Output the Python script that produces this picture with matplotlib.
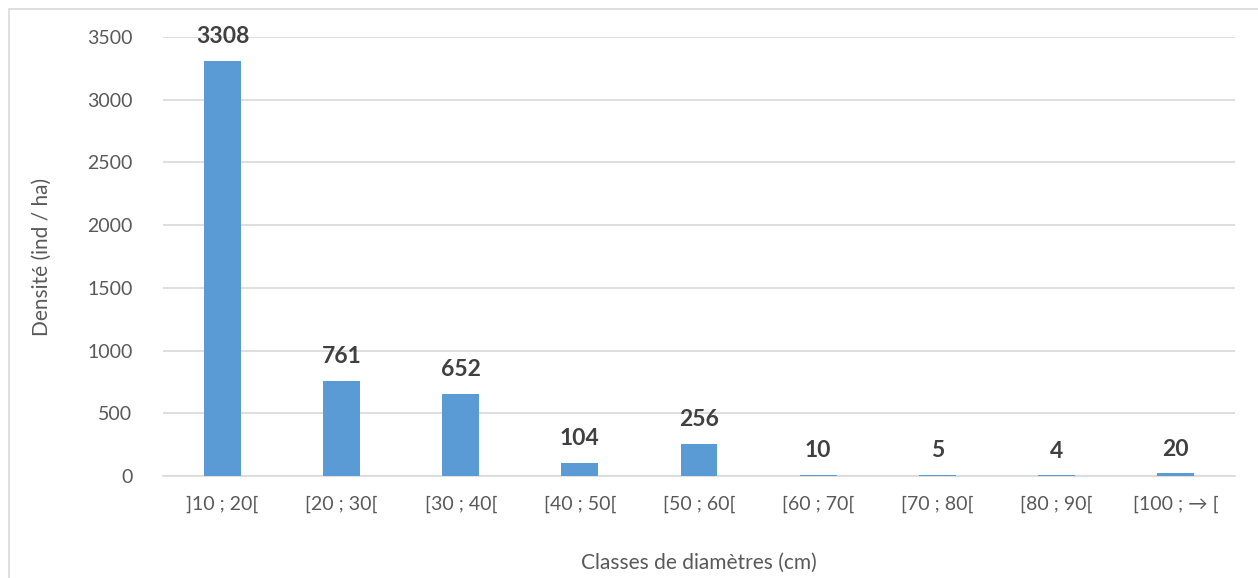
import matplotlib.pyplot as plt
from matplotlib.patches import Rectangle

classes = [']10 ; 20[', '[20 ; 30[', '[30 ; 40[', '[40 ; 50[', '[50 ; 60[',
           '[60 ; 70[', '[70 ; 80[', '[80 ; 90[', '[100 ; \u2192 [']
densite = [3308, 761, 652, 104, 256, 10, 5, 4, 20]
yticks = [0, 500, 1000, 1500, 2000, 2500, 3000, 3500]

plt.rcParams['font.family'] = ['Lato', 'DejaVu Sans']
grey = '#595959'

fig = plt.figure(figsize=(12.58, 5.78), dpi=100)
W, H = 1258, 578
ax = fig.add_axes([163 / W, 1 - 476 / H, (1235 - 163) / W, (476 - 37) / H])

x = list(range(len(classes)))
ax.bar(x, densite, width=0.31, color='#5B9BD5', zorder=3)
for xi, v in zip(x, densite):
    ax.annotate(str(v), (xi, v), xytext=(0, 10), textcoords='offset points',
                ha='center', va='bottom', fontsize=16.5, fontweight='bold',
                color='#404040')

ax.set_xlim(-0.5, len(classes) - 0.5)
ax.set_ylim(0, 3500)
ax.set_yticks(yticks)
ax.set_xticks(x)
ax.set_xticklabels(classes)
ax.grid(axis='y', color='#D9D9D9', linewidth=1.2, zorder=0)
for s in ['top', 'right', 'left']:
    ax.spines[s].set_visible(False)
ax.spines['bottom'].set_color('#D9D9D9')
ax.spines['bottom'].set_linewidth(1.2)
ax.tick_params(length=0, labelsize=14, colors=grey)
ax.tick_params(axis='x', pad=14)
ax.tick_params(axis='y', pad=22)
ax.set_xlabel('Classes de diamètres (cm)', fontsize=15, color=grey, labelpad=29)
ax.set_ylabel('Densité (ind / ha)', fontsize=15, color=grey, labelpad=25)

fig.patches.append(Rectangle((9 / W, -0.1), 1.2, 1 - 9 / H + 0.1,
                             transform=fig.transFigure, fill=False,
                             edgecolor='#D9D9D9', linewidth=1.2))

fig.savefig('out.png', dpi=100)
